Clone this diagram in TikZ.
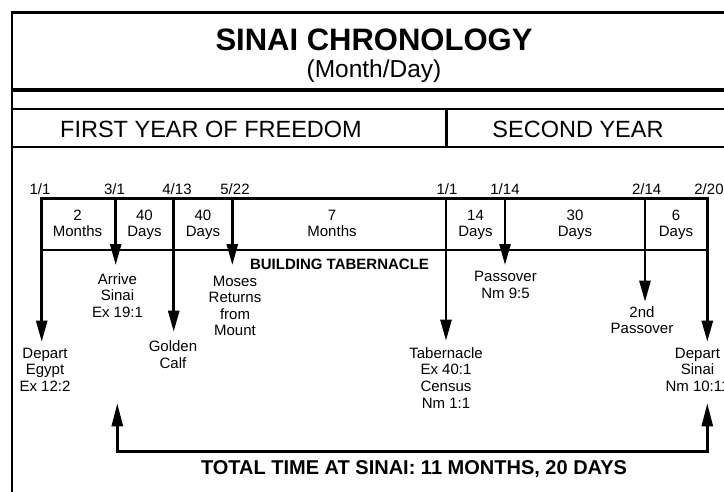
\documentclass[tikz,border=0pt]{standalone}
\usepackage{fontspec}
\setmainfont{Liberation Sans}
\usetikzlibrary{arrows.meta}
\newcommand\mystack[1]{\begin{tabular}[t]{@{}c@{}}#1\end{tabular}}
\begin{document}
\begin{tikzpicture}[x=1pt,y=-1pt,
  frameline/.style={line width=2.5pt},
  thickline/.style={line width=4pt},
  tline/.style={line width=2.6pt,line cap=rect},
  evarrow/.style={line width=2.6pt,-{Triangle[length=21pt,width=11pt]}},
  bracket/.style={line width=2.6pt,line join=miter,{Triangle[length=23pt,width=11pt]}-{Triangle[length=23pt,width=11pt]}},
  titletext/.style={anchor=base,inner sep=0pt,font=\bfseries\fontsize{31}{35}\selectfont},
  subtext/.style={anchor=base,inner sep=0pt,font=\fontsize{24.5}{27}\selectfont},
  yeartext/.style={anchor=base,inner sep=0pt,font=\fontsize{23.5}{26}\selectfont},
  datetext/.style={anchor=base,inner sep=0pt,font=\fontsize{15}{16}\selectfont},
  segtext/.style={anchor=base,inner sep=0pt,font=\fontsize{15}{15.4}\selectfont},
  evtext/.style={anchor=base,inner sep=0pt,font=\fontsize{15}{16.6}\selectfont},
  boldtext/.style={anchor=base,inner sep=0pt,font=\bfseries\fontsize{15}{17}\selectfont},
  totaltext/.style={anchor=base,inner sep=0pt,font=\bfseries\fontsize{20}{24}\selectfont},
]
\useasboundingbox (0,0) rectangle (724,491);
\fill[white] (0,0) rectangle (724,491);
\clip (0,0) rectangle (724,491);

% header frame
\draw[frameline] (12,495) -- (12,12.7) -- (745,12.7);
\draw[thickline] (12,90) -- (745,90);
\draw[frameline] (12,109) -- (745,109);
\draw[frameline] (12,147) -- (745,147);
\draw[frameline] (446.5,109) -- (446.5,147);

\node[titletext] (title) at (374,50) {SINAI CHRONOLOGY};
\node[subtext] (subtitle) at (374,77) {(Month/Day)};
\node[yeartext] (year1) at (211,137) {FIRST YEAR OF FREEDOM};
\node[yeartext] (year2) at (578,137) {SECOND YEAR};

% timeline coordinates
\coordinate (tA) at (41.7,198.3);  \coordinate (mA) at (41.7,250);
\coordinate (tB) at (115.7,198.3);
\coordinate (tC) at (173.7,198.3);
\coordinate (tD) at (232.3,198.3);
\coordinate (tE) at (446,198.3);
\coordinate (tF) at (505,198.3);
\coordinate (tG) at (645,198.3);
\coordinate (tH) at (707.3,198.3); \coordinate (mH) at (707.3,250);

\coordinate (eA) at (41.7,341.7);
\coordinate (eB) at (115.7,265);
\coordinate (eC) at (173.7,331.7);
\coordinate (eD) at (232.3,265);
\coordinate (eE) at (446,340.7);
\coordinate (eF) at (505,265);
\coordinate (eG) at (645,301.7);
\coordinate (eH) at (707.3,341.7);

\draw[tline] (tA) -- (tH);
\draw[tline] (mA) -- (mH);
\foreach \p in {A,B,C,D,E,F,G,H}{\draw[evarrow] (t\p) -- (e\p);}

% dates
\node[datetext] (d1) at (40,194) {1/1};
\node[datetext] (d2) at (114.5,194) {3/1};
\node[datetext] (d3) at (177,194) {4/13};
\node[datetext] (d4) at (235,194) {5/22};
\node[datetext] (d5) at (447,194) {1/1};
\node[datetext] (d6) at (505,194) {1/14};
\node[datetext] (d7) at (646.7,194) {2/14};
\node[datetext] (d8) at (709,194) {2/20};

% segments
\node[segtext] (s1) at (77.5,220.7) {\mystack{2\\Months}};
\node[segtext] (s2) at (144.5,220.7) {\mystack{40\\Days}};
\node[segtext] (s3) at (203,220.7) {\mystack{40\\Days}};
\node[segtext] (s4) at (332,220.7) {\mystack{7\\Months}};
\node[segtext] (s5) at (475.5,220.7) {\mystack{14\\Days}};
\node[segtext] (s6) at (575,220.7) {\mystack{30\\Days}};
\node[segtext] (s7) at (676,220.7) {\mystack{6\\Days}};

\node[boldtext] (build) at (339.5,269) {BUILDING TABERNACLE};

% events
\node[evtext] (vA) at (45,358.3) {\mystack{Depart\\Egypt\\Ex 12:2}};
\node[evtext] (vB) at (117.5,284) {\mystack{Arrive\\Sinai\\Ex 19:1}};
\node[evtext] (vC) at (173,351.7) {\mystack{Golden\\Calf}};
\node[evtext] (vD) at (235,286) {\mystack{Moses\\Returns\\from\\Mount}};
\node[evtext] (vE) at (446,358.3) {\mystack{Tabernacle\\Ex 40:1\\Census\\Nm 1:1}};
\node[evtext] (vF) at (505.5,281.7) {\mystack{Passover\\Nm 9:5}};
\node[evtext] (vG) at (642,317.3) {\mystack{2nd\\Passover}};
\node[evtext] (vH) at (697.5,358.3) {\mystack{Depart\\Sinai\\Nm 10:11}};

% total bracket
\coordinate (bL) at (117.3,403.3);
\coordinate (cL) at (117.3,451.7);
\coordinate (cR) at (707.3,451.7);
\coordinate (bR) at (707.3,403.3);
\draw[bracket] (bL) -- (cL) -- (cR) -- (bR);
\node[totaltext] (total) at (414,474) {TOTAL TIME AT SINAI: 11 MONTHS, 20 DAYS};
\end{tikzpicture}
\end{document}
